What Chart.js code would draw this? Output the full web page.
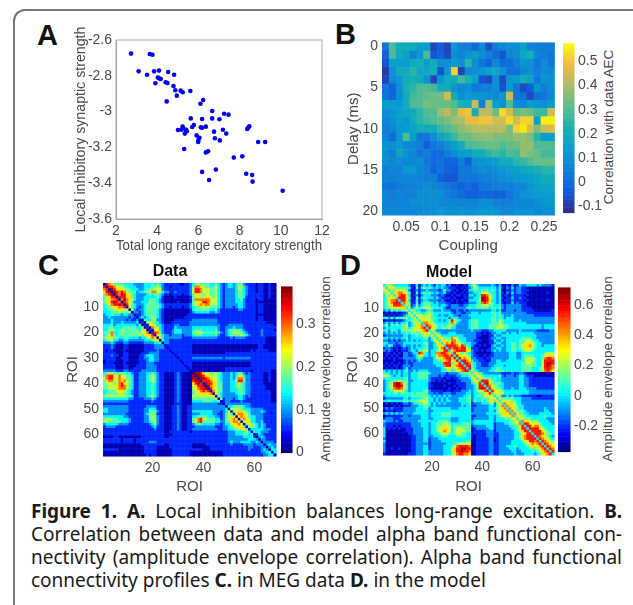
<!DOCTYPE html>
<html>
<head>
<meta charset="utf-8">
<title>Figure 1</title>
<script src="https://cdn.jsdelivr.net/npm/chart.js@4"></script>
<style>
  html, body { margin: 0; padding: 0; background: #fff; }
  #page { position: relative; width: 633px; height: 605px; overflow: hidden; font-family: "Liberation Sans", sans-serif; }
  canvas { position: absolute; filter: blur(0.5px); }
  #frame { position: absolute; left: 13px; top: 9px; width: 640px; height: 640px; border-left: 2px solid #777; border-top: 2px solid #777; border-top-left-radius: 12px; box-sizing: border-box; }
  .letter { position: absolute; font: bold 29px/1 "Liberation Sans", sans-serif; color: #111; }
  .barlabel { position: absolute; font-size: 13.5px; color: #444; white-space: nowrap; transform: translate(-50%, -50%) rotate(-90deg); }
  #caption { position: absolute; left: 31px; top: 500px; width: 591px; font: 19px/23px "Noto Sans", sans-serif; color: #1a1a1a; }
  #caption div { text-align: justify; text-align-last: justify; white-space: nowrap; }
  #caption div.last { text-align-last: left; }
</style>
</head>
<body>
<div id="page">
  <div id="frame"></div>
  <div class="letter" style="left:37px;top:21px">A</div>
  <div class="letter" style="left:335px;top:20px">B</div>
  <div class="letter" style="left:38px;top:251px">C</div>
  <div class="letter" style="left:340px;top:251px">D</div>
  <div class="barlabel" style="left:608px;top:127px">Correlation with data AEC</div>
  <div class="barlabel" style="left:325px;top:369px">Amplitude envelope correlation</div>
  <div class="barlabel" style="left:607px;top:369px">Amplitude envelope correlation</div>
  <div id="caption">
    <div><b>Figure 1. A.</b> Local inhibition balances long-range excitation. <b>B.</b></div>
    <div>Correlation between data and model alpha band functional con-</div>
    <div>nectivity (amplitude envelope correlation). Alpha band functional</div>
    <div class="last">connectivity profiles <b>C.</b> in MEG data <b>D.</b> in the model</div>
  </div>
</div>

<script>
// panel A
const excitation = [2.73,3.64,3.77,3.10,3.51,3.85,4.09,4.53,4.82,4.03,4.09,4.17,3.91,4.41,4.50,4.79,4.88,5.14,5.24,4.95,5.61,4.46,6.23,6.10,6.67,5.63,6.18,6.67,7.25,7.46,7.02,5.78,5.70,5.01,5.23,5.27,5.18,5.40,5.34,5.44,6.12,6.18,6.36,5.91,6.05,6.00,5.99,6.76,7.19,7.35,6.80,7.04,8.47,8.42,8.37,8.90,9.24,5.31,6.36,6.47,7.72,8.13,6.18,6.85,6.52,8.32,8.61,8.63,10.09];
const inhibition = [-2.676,-2.678,-2.682,-2.775,-2.794,-2.775,-2.771,-2.779,-2.794,-2.81,-2.814,-2.818,-2.842,-2.836,-2.84,-2.857,-2.881,-2.883,-2.892,-2.911,-2.885,-2.943,-2.935,-2.956,-2.997,-3.038,-3.041,-3.038,-3.012,-3.017,-3.043,-3.075,-3.086,-3.103,-3.084,-3.093,-3.101,-3.101,-3.123,-3.11,-3.088,-3.09,-3.084,-3.133,-3.146,-3.159,-3.17,-3.112,-3.101,-3.123,-3.149,-3.161,-3.082,-3.09,-3.097,-3.17,-3.17,-3.209,-3.228,-3.222,-3.257,-3.25,-3.337,-3.324,-3.382,-3.347,-3.354,-3.391,-3.442];
const ticksAx = [2, 4, 6, 8, 10, 12];
const ticksAy = [-2.6, -2.8, -3, -3.2, -3.4, -3.6];

// panel B, one row per delay, one column per coupling value
const couplings = [0.02,0.03,0.04,0.05,0.06,0.07,0.08,0.09,0.1,0.11,0.12,0.13,0.14,0.15,0.16,0.17,0.18,0.19,0.2,0.21,0.22,0.23,0.24,0.25,0.26];
const delays = [0,1,2,3,4,5,6,7,8,9,10,11,12,13,14,15,16,17,18,19,20];
const aecByDelay = [
  [.03,.30,.2,.2,.2,.15,.14,-.08,-.03,-.08,.12,.05,.05,.0,.08,-.06,.04,.08,.1,.1,.15,.06,.05,.05,.05],
  [-.02,.3,.2,.15,.05,.12,.3,-.05,-.02,-.07,.1,.07,.12,.15,.1,.05,0,-.05,.08,.1,.18,.22,.07,.05,.03],
  [-.05,.15,.15,.15,.2,.22,.15,.2,.1,.1,.14,.1,.25,.1,.03,-.02,.08,.0,0,.05,.12,.1,.03,.1,.03],
  [-.1,.1,.2,.2,.25,.18,.18,.2,-.05,.12,.52,-.08,.08,.1,.12,.15,.18,.12,.02,.02,.08,.1,.05,.1,.08],
  [-.08,.08,.12,.2,.22,.2,.1,-.08,.12,.2,.2,.28,.22,.17,-.05,-.07,.1,-.07,.12,.15,.2,.17,.03,.12,.1],
  [.03,-.02,.1,.22,.25,.3,.3,.28,.2,.2,.12,.08,.1,.03,.06,.06,.1,-.05,.12,.03,-.07,-.03,.12,.05,.1],
  [.03,-.02,.1,.2,.28,.3,.32,.33,.33,.45,.2,.1,.13,.12,.12,.1,.08,.12,.45,.03,.02,-.07,.02,.03,.08],
  [.15,.15,.13,.2,.3,.3,.35,.33,.33,.33,.3,.23,.2,.43,.05,.4,.15,.1,.3,.1,.08,.15,.12,.1,.14],
  [.1,.12,.15,.18,.2,.25,.3,.3,.38,.42,.35,.48,.5,.2,.42,.42,.33,.53,.45,.33,.35,.33,.28,.28,.45],
  [.07,.1,.15,.12,.2,.25,.28,.3,.32,.35,.4,.4,.48,.48,.5,.5,.45,.45,.53,.45,.52,.52,.15,.56,.56],
  [.05,.07,.13,.14,.17,.2,.2,.2,.27,.3,.33,.37,.4,.42,.42,.42,.42,.42,.35,.52,.55,.45,.35,.45,.47],
  [.08,.0,.12,.3,.15,.03,.03,.1,.18,.22,.27,.33,.33,.36,.37,.38,.35,.35,.35,.38,.38,.35,.25,.15,.15],
  [.12,.1,.13,.08,.08,.05,-.03,.03,.05,.1,.15,.2,.3,.3,.32,.33,.33,.3,.32,.33,.38,.38,.3,.3,.3],
  [.1,.05,.17,.1,.08,.02,.05,0,.0,.05,.1,.15,.15,.2,.2,.25,.28,.25,.3,.28,.38,.35,.33,.28,.28],
  [.1,.08,.1,.07,.08,.1,.03,.0,.02,-.02,-.02,.05,-.03,.1,.12,.13,.15,.2,.2,.25,.27,.3,.33,.33,.33],
  [.05,.08,.07,.13,.12,.08,.05,-.02,.02,-.02,-.04,.03,.03,.07,.1,.08,.1,.12,.15,.15,.18,.2,.22,.25,.25],
  [.07,.05,.07,.08,.08,.07,.05,.05,-.03,-.05,-.05,.03,.03,.03,.05,.06,.07,.1,.12,.13,.13,.15,.17,.2,.2],
  [.03,.02,.04,.06,.05,.08,.09,.07,.06,.03,.0,-.03,.0,-.03,.03,.03,.05,.05,.05,.08,.08,.12,.14,.17,.18],
  [.07,.04,.07,.05,.06,.1,.1,.1,.1,.05,.03,.0,-.03,-.03,-.01,-.02,-.03,-.03,.03,.07,.1,.12,.13,.14,.14],
  [.07,.07,.07,.08,.1,.1,.1,.1,.08,.08,.07,.08,.07,.07,.1,.1,.06,.05,.05,.08,.08,.07,.1,.12,.12],
  [.08,.08,.07,.07,.07,.08,.09,.1,.13,.1,.1,.12,.1,.1,.13,.12,.12,.08,.08,.1,.1,.1,.08,.1,.1]
];

// panels C and D: lower triangle of each symmetric matrix, row by row.
// each digit is a colour band 0..9, spaces are only for reading
const dataRows = [
  "0","80","780","6890","47890","456880","4567780","45689870","345788980","3445667780","33445665550","333444544450",
  "233433323322 0","223222222212 10","222322222121 120","222322232222 230","333423333333 3240","334433334444 43350","334543454444 443560","444733444444 4545670",
  "345743444444 445456 680","455544334433 332335 5760","345533223322 222233 34560","222321112211 111122 223 34 0",
  "111210001100 000011 112 222 0","111210001100 000011 112 222 1 0","101100001000 000011 111 211 11 0","111110001100 000111 222 211 111 0",
  "111211001100 001123 332 211 1111 0","111110011100 001122 332 211 11111 0","011110001100 001112 332 211 111111 0","011100001000 001112 221 111 1111111 0",
  "111110001100 011112 222 111 11111111 0","111110001100 111112 222 111 111111111 0","222221112211 111222 222 111 1111111111 0",
  "345544444332 112223 343 211 00001210000 0","478865755443 112223 454 211 00001210000 90","578865766443 112223 454 211 00001210000 990","467755767543 112223 454 211 00001210000 8990",
  "455545786543 112223 343 211 00001210000 68980","445556787543 112223 343 211 00001210000 568890","445556777543 112223 343 211 00001210000 5678890","334445665432 112223 343 211 00001210000 45678780",
  "344444554432 112223 343 211 00001210000 455666670","455555555443 112223 454 211 00001210000 5555555560","333333333322 111122 232 111 00001210000 44444444450","222222222211 111111 121 111 00001210000 333344443340",
  "111111111111 111111 111 111 00001110000 222222222211 0",
  "222222222211 111112 222 111 00011210011 222222222222 2 0","332222222211 111122 333 111 00011210011 222222222222 23 0","332222222211 111122 444 211 00011210011 333333332221 235 0",
  "222222222111 111123 454 111 00011210011 222333332211 2454 0","333333332211 111122 454 211 00011210011 334444333221 24556 0","455444333321 111122 454 211 00011210011 457865444331 245676 0",
  "454444433321 111122 345 211 00011210011 467844444332 2446776 0","233333222211 111111 234 211 00011210011 234433333221 23356675 0","122221111111 111111 123 111 00011210011 122222222111 223455664 0",
  "111111111111 111111 112 111 00011210011 222222222211 2233445664 0",
  "111111111111 111111 111 111 00111111110 111111111111 11222333453 0","111111111111 111111 111 111 00011111111 111111111111 112223334433 0",
  "000011000000 000111 111 111 00111111111 111111111111 1122222233331 0","111111101111 011111 111 111 11111111111 111111111111 11222222223332 0",
  "111111101111 011111 222 111 11111111111 111111111111 112322233332232 0","000000000000 000111 111 111 00111111111 000001111111 1112111122221222 0",
  "000000000000 000011 111 000 00111111111 000000011111 11111111112211122 0","111111000000 000011 111 000 00011111111 111100011111 111111111121111232 0",
  "000000000000 000011 111 000 00011111110 000000000000 1111111111111112233 0","000000000000 000001 011 000 00011111110 000000000000 11111111111111112233 0"
];
const modelRows = [
  "3","53","563","4653","35463","345663","3467783","34578883","345688873","3445666663",
  "2324343445 3","0101010112 53","1010101123 453","3424243445 3453","0111011123 34553","2323232334 235653","3524343445 2345673","2333333445 34556783",
  "3424332445 45555678 3","2323232334 34444566 53","1222222233 23343455 463","3323232334 23333344 2453","2212121223 23232333 23563","3322212233 33333344 223563",
  "3243111232 23232334 2234663","1221010121 23233344 22345783","2121010111 23324455 233456883",
  "0110101022 12338743 233778876 3","0101010022 11236633 233677887 83","1010101122 22234322 223556788 683","0000100012 12123222 223345678 5683",
  "0101001012 11222222 223334888 45683","1010110122 21222222 222333788 567883","0101010123 12222222 222223456 4567883","3232323234 22323333 222223345 34567883",
  "4332323233 23334444 322222212 22234445 3","5543233233 23334444 222212111 11223334 63","3443333344 23334444 211111011 01122223 563","2334445444 22333333 211010100 00112222 4563",
  "2345899754 23333333 100000001 00111122 34683","2345899854 23333333 110000100 01011122 234883","2345788754 23333333 100000001 00101122 2348983","2334556543 23333344 211111011 01112223 23456783",
  "3343443444 34344444 221211222 11222233 233445683",
  "2333333334 34444444 323232323 22222334 234445566 3","1222222233 23333445 332323232 22233344 233344455 53","3343333344 34445555 332323233 22233344 243343466 463",
  "0101010122 12334455 323232322 22223334 122233345 2463","0000101011 12223344 323222222 22223233 112222233 24573","1212111122 22233344 233333333 22233333 122222233 345673",
  "0111011122 22233333 223333333 33333333 122222233 2456673","2323232322 22333333 233334444 33333333 222222333 34466573","0111111122 12222333 233334444 33333333 112222233 234556573",
  "1222111222 22222333 223333333 22233333 122222233 233344456 3","3222121122 22223333 333344443 22233333 233333333 233333445 63","2111111111 12222333 233444554 33334444 233333333 122233445 573",
  "2111010111 12222333 233445655 34444444 122222333 122222334 4683","3010101001 11222233 233456665 34555444 012222233 122222233 46883","3000000001 11222233 233456765 34555544 011111222 122222223 456883",
  "3000000000 11222233 233345554 34554433 011111222 112222223 3456883",
  "3000000000 01122233 223334443 33444433 001111222 112222223 3567888 3","2000000000 01122233 122233333 33333333 001111122 012222223 3457888 83","3000000000 01122233 122223333 33333344 001111122 012222233 3345688 783",
  "2000000000 01122222 122222233 34455555 001111122 112222233 3334567 6783","2000000000 01122233 122222333 45788887 001111122 112223334 3333456 56783","2001001000 01122233 122222333 56889988 001111122 112222333 2333344 456783",
  "2000000000 01122233 222222333 56889887 001111122 112222233 2233334 3456783","1000000000 11122233 222222333 55788776 001111122 112222223 2223333 23456783"
];
const ticksRoiY = [10, 20, 30, 40, 50, 60];
const ticksRoiX = [20, 40, 60];
const ticksCouplingX = [0.05, 0.1, 0.15, 0.2, 0.25];
const ticksDelayY = [0, 5, 10, 15, 20];
const ticksBarB = [-0.1, 0, 0.1, 0.2, 0.3, 0.4, 0.5];
const ticksBarC = [0, 0.1, 0.2, 0.3];
const ticksBarD = [-0.2, 0, 0.2, 0.4, 0.6];

const tickColor = '#4a4a4a';
const tickFont = { family: 'Liberation Sans', size: 14 };

function ramp(stops, t) {
    t = Math.max(0, Math.min(1, t));
    for (let i = 1; i < stops.length; i++) {
        if (t <= stops[i][0]) {
            const a = stops[i - 1], b = stops[i];
            const k = (t - a[0]) / (b[0] - a[0]);
            return `rgb(${[1, 2, 3].map(c => Math.round(a[c] + (b[c] - a[c]) * k)).join(',')})`;
        }
    }
    return 'rgb(0,0,0)';
}
const parulaStops = [[0,53,42,135],[.125,15,92,221],[.25,18,125,216],[.375,7,156,207],[.5,21,177,180],[.625,89,189,140],[.75,165,190,106],[.875,240,186,65],[1,249,251,14]];
const jetStops = [[0,0,0,120],[.11,0,0,255],[.36,0,255,255],[.62,255,255,0],[.87,255,0,0],[1,128,0,0]];

// fills one rectangle per data point, positions come from the chart's scales
const cellsPlugin = {
    id: 'cells',
    beforeDatasetsDraw(chart, args, opts) {
        if (!opts.stops) return;
        const { x, y } = chart.scales;
        const ctx = chart.ctx;
        chart.data.datasets[0].data.forEach(p => {
            const x0 = x.getPixelForValue(p.x - opts.w / 2), x1 = x.getPixelForValue(p.x + opts.w / 2);
            const y0 = y.getPixelForValue(p.y - opts.h / 2), y1 = y.getPixelForValue(p.y + opts.h / 2);
            ctx.fillStyle = ramp(opts.stops, (p.v - opts.min) / (opts.max - opts.min));
            ctx.fillRect(Math.min(x0, x1), Math.min(y0, y1), Math.abs(x1 - x0) + 0.5, Math.abs(y1 - y0) + 0.5);
        });
    },
    afterDatasetsDraw(chart, args, opts) {
        if (!opts.frame) return;
        const a = chart.chartArea;
        chart.ctx.strokeStyle = opts.frame;
        chart.ctx.lineWidth = 1;
        chart.ctx.strokeRect(a.left, a.top, a.right - a.left, a.bottom - a.top);
    }
};

function addCanvas(box) {
    const c = document.createElement('canvas');
    c.width = box.right - box.left;
    c.height = box.bottom - box.top;
    c.style.left = box.left + 'px';
    c.style.top = box.top + 'px';
    document.getElementById('page').appendChild(c);
    return c;
}

function fixedTicks(values) {
    return axis => { axis.ticks = values.map(value => ({ value })); };
}

function axisOptions(extra) {
    return Object.assign({
        type: 'linear',
        grid: { display: false, drawTicks: false },
        border: { color: '#999' },
        ticks: { color: tickColor, font: tickFont, padding: 4, autoSkip: false, maxRotation: 0, callback: v => String(v) }
    }, extra);
}

function axisTitle(text, size) {
    return { display: true, text, color: tickColor, font: { family: 'Liberation Sans', size: size || 15 }, padding: 0 };
}

function makePanel(box, plot, xExtra, yExtra, data, pluginOpts, title) {
    const titleH = title ? 22 : 0;
    const xAxis = axisOptions(xExtra);
    const yAxis = axisOptions(yExtra);
    xAxis.afterFit = s => { s.height = box.bottom - plot.bottom; };
    yAxis.afterFit = s => { s.width = plot.left - box.left; };
    return new Chart(addCanvas(box), {
        type: 'scatter',
        data: { datasets: [{ data, pointRadius: pluginOpts.stops ? 0 : 2.3, backgroundColor: '#0000ee', borderWidth: 0 }] },
        options: {
            responsive: false,
            animation: false,
            layout: { padding: { top: plot.top - box.top - titleH, right: box.right - plot.right, left: 0, bottom: 0 } },
            scales: { x: xAxis, y: yAxis },
            plugins: {
                legend: { display: false },
                tooltip: { enabled: false },
                title: title ? { display: true, text: title, color: '#111', font: { family: 'Liberation Sans', size: 16, weight: 'bold' }, lineHeight: 1.2, padding: { top: 1, bottom: 1.8 } } : { display: false },
                cells: pluginOpts
            }
        },
        plugins: [cellsPlugin]
    });
}

function makeBar(plot, ticks, min, max, stops) {
    const box = { left: plot.left, top: plot.top - 10, right: plot.right + 40, bottom: plot.bottom + 10 };
    const steps = [];
    for (let i = 0; i < 64; i++) steps.push({ x: 0.5, y: min + (i + 0.5) * (max - min) / 64, v: min + (i + 0.5) * (max - min) / 64 });
    const yAxis = axisOptions({ position: 'right', min, max, afterBuildTicks: fixedTicks(ticks) });
    yAxis.border = { display: false };
    yAxis.afterFit = s => { s.width = box.right - plot.right; };
    return new Chart(addCanvas(box), {
        type: 'scatter',
        data: { datasets: [{ data: steps, pointRadius: 0 }] },
        options: {
            responsive: false,
            animation: false,
            layout: { padding: { top: 10, bottom: 10, left: 0, right: 0 } },
            scales: { x: { type: 'linear', display: false, min: 0, max: 1 }, y: yAxis },
            plugins: {
                legend: { display: false },
                tooltip: { enabled: false },
                cells: { stops, min, max, w: 1, h: (max - min) / 64 }
            }
        },
        plugins: [cellsPlugin]
    });
}

// turn the digit rows into cells, mirrored over the diagonal
function roiCells(rows, levelToValue) {
    const cells = [];
    rows.forEach((text, i) => {
        const row = text.replace(/ /g, '');
        for (let j = 0; j <= i; j++) {
            const v = levelToValue(Number(row[j] ?? 1));
            cells.push({ x: j + 1, y: i + 1, v });
            if (i !== j) cells.push({ x: i + 1, y: j + 1, v });
        }
    });
    return cells;
}

// A
makePanel(
    { left: 73, top: 20, right: 335, bottom: 255 },
    { left: 116, top: 40, right: 322, bottom: 219 },
    { min: 2, max: 12, afterBuildTicks: fixedTicks(ticksAx), title: axisTitle('Total long range excitatory strength', 14.2) },
    { min: -3.6, max: -2.6, afterBuildTicks: fixedTicks(ticksAy), title: axisTitle('Local inhibitory synaptic strength', 14.2) },
    excitation.map((x, i) => ({ x, y: inhibition[i] })),
    { frame: '#aaa' }
);

// B
const aecCells = [];
delays.forEach((d, r) => couplings.forEach((c, k) => aecCells.push({ x: c, y: d, v: aecByDelay[r][k] })));
makePanel(
    { left: 345, top: 30, right: 562, bottom: 255 },
    { left: 382, top: 41, right: 556, bottom: 215 },
    { min: 0.015, max: 0.265, afterBuildTicks: fixedTicks(ticksCouplingX), border: { display: false }, title: axisTitle('Coupling') },
    { min: -0.5, max: 20.5, reverse: true, afterBuildTicks: fixedTicks(ticksDelayY), border: { display: false }, title: axisTitle('Delay (ms)') },
    aecCells,
    { stops: parulaStops, min: -0.127, max: 0.575, w: 0.01, h: 1 }
);
makeBar({ left: 563, top: 41, right: 574, bottom: 215 }, ticksBarB, -0.127, 0.575, parulaStops);

// C
makePanel(
    { left: 64, top: 261, right: 279, bottom: 496 },
    { left: 103, top: 283, right: 276, bottom: 456 },
    { min: 0.5, max: 68.5, afterBuildTicks: fixedTicks(ticksRoiX), border: { display: false }, title: axisTitle('ROI') },
    { min: 0.5, max: 68.5, reverse: true, afterBuildTicks: fixedTicks(ticksRoiY), border: { display: false }, title: axisTitle('ROI') },
    roiCells(dataRows, d => (d + 0.5) * 0.039),
    { stops: jetStops, min: 0, max: 0.39, w: 1, h: 1 },
    'Data'
);
makeBar({ left: 281, top: 284, right: 292, bottom: 455 }, ticksBarC, 0, 0.389, jetStops);

// D
makePanel(
    { left: 344, top: 262, right: 557, bottom: 496 },
    { left: 383, top: 284, right: 554, bottom: 455 },
    { min: 0.5, max: 68.5, afterBuildTicks: fixedTicks(ticksRoiX), border: { display: false }, title: axisTitle('ROI') },
    { min: 0.5, max: 68.5, reverse: true, afterBuildTicks: fixedTicks(ticksRoiY), border: { display: false }, title: axisTitle('ROI') },
    roiCells(modelRows, d => -0.37 + (d + 0.5) * 0.1088),
    { stops: jetStops, min: -0.37, max: 0.718, w: 1, h: 1 },
    'Model'
);
makeBar({ left: 558, top: 285, right: 570, bottom: 454 }, ticksBarD, -0.37, 0.718, jetStops);
</script>
</body>
</html>
